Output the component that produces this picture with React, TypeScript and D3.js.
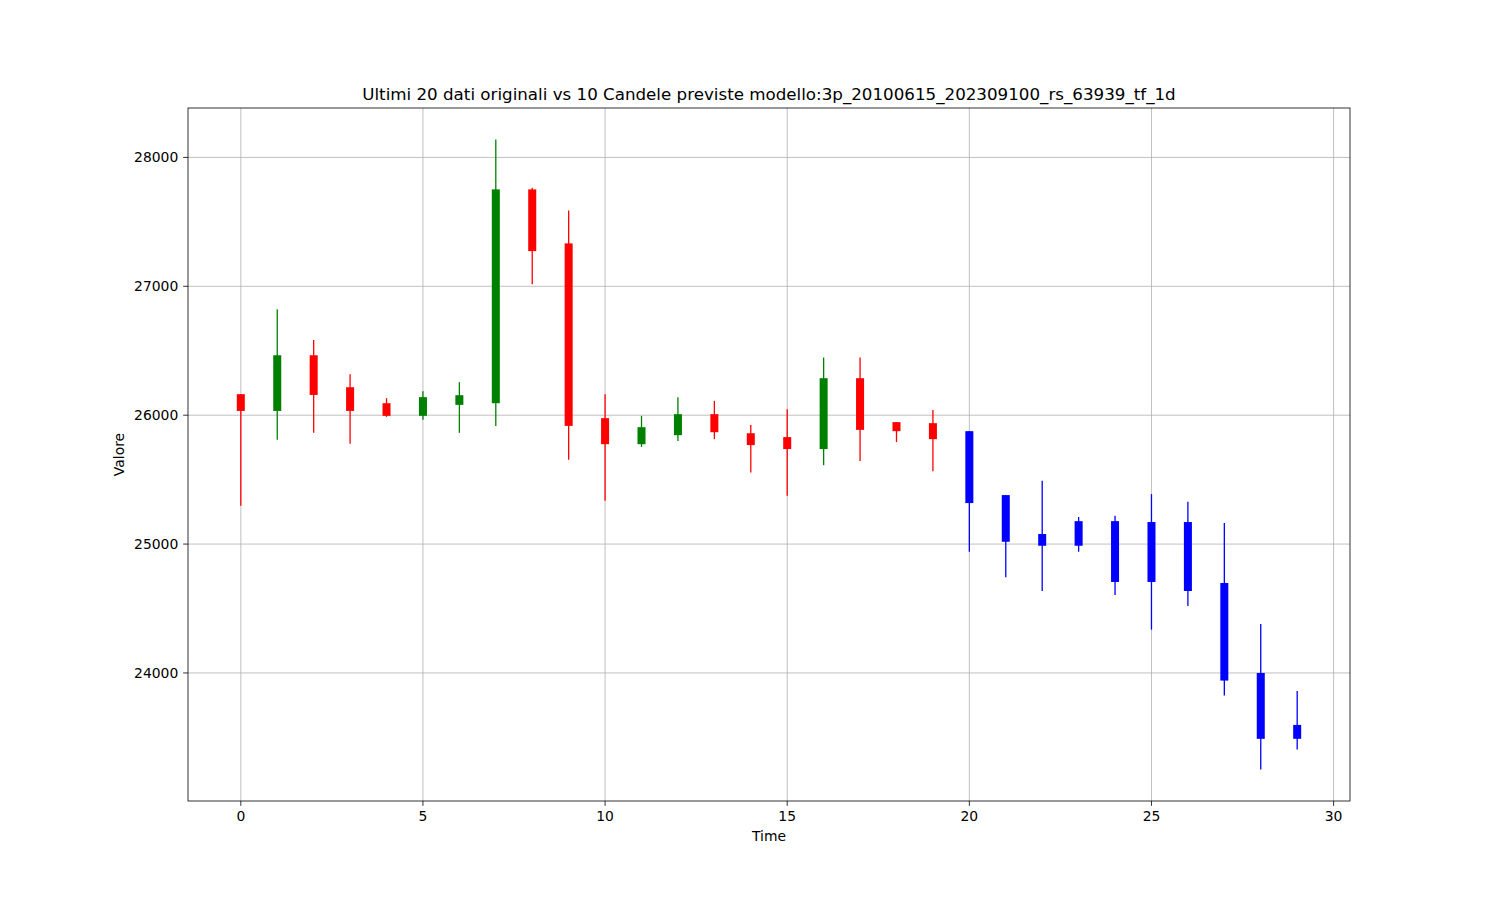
import React, { useEffect, useRef } from "react";
import * as d3 from "d3";

const TITLE = "Ultimi 20 dati originali vs 10 Candele previste modello:3p_20100615_202309100_rs_63939_tf_1d";
const X_LABEL = "Time";
const Y_LABEL = "Valore";

const times = d3.range(0, 30);
const opens = [26163, 26033, 26465, 26217, 26093, 25995, 26080, 26093, 27752, 27333,
  25977, 25775, 25845, 26008, 25860, 25830, 25737, 26287, 25946, 25938,
  25876, 25380, 25078, 25178, 25178, 25171, 25171, 24698, 24000, 23597];
const closes = [26033, 26465, 26157, 26033, 25995, 26140, 26155, 27752, 27273, 25917,
  25775, 25907, 26008, 25868, 25768, 25737, 26287, 25886, 25876, 25814,
  25318, 25018, 24987, 24987, 24706, 24706, 24636, 23941, 23489, 23489];
const highs = [26163, 26822, 26584, 26318, 26132, 26186, 26256, 28139, 27765, 27589,
  26163, 25995, 26140, 26111, 25923, 26047, 26447, 26447, 25946, 26041,
  25876, 25380, 25491, 25210, 25220, 25388, 25328, 25163, 24380, 23861];
const lows = [25297, 25809, 25863, 25778, 25987, 25964, 25863, 25917, 27015, 25654,
  25336, 25754, 25799, 25814, 25556, 25375, 25612, 25644, 25791, 25566,
  24941, 24742, 24636, 24941, 24605, 24336, 24520, 23825, 23251, 23406];
const N_ORIGINAL = 20;
const xTicks = [0, 5, 10, 15, 20, 25, 30];
const yTicks = [24000, 25000, 26000, 27000, 28000];

export default function App() {
  const ref = useRef<SVGSVGElement | null>(null);

  useEffect(() => {
    const svg = d3.select(ref.current);
    svg.selectAll("*").remove();
    const W = 1500, H = 900;
    const m = { left: 188, right: 1350, top: 108, bottom: 801 };
    const font = "DejaVu Sans, sans-serif";

    const xMin = d3.min(times)!, xMax = d3.max(times)!;
    const xPad = (xMax - xMin) * 0.05;
    const x = d3.scaleLinear().domain([xMin - xPad, xMax + xPad]).range([m.left, m.right]);
    const yMin = d3.min(lows)!, yMax = d3.max(highs)!;
    const yPad = (yMax - yMin) * 0.05;
    const y = d3.scaleLinear().domain([yMin - yPad, yMax + yPad]).range([m.bottom, m.top]);

    svg.append("rect").attr("width", W).attr("height", H).attr("fill", "white");

    const grid = svg.append("g");
    xTicks.forEach((t) => {
      grid.append("line").attr("x1", x(t)).attr("x2", x(t)).attr("y1", m.top).attr("y2", m.bottom)
        .attr("stroke", "#b0b0b0").attr("stroke-width", 0.8);
    });
    yTicks.forEach((t) => {
      grid.append("line").attr("x1", m.left).attr("x2", m.right).attr("y1", y(t)).attr("y2", y(t))
        .attr("stroke", "#b0b0b0").attr("stroke-width", 0.8);
    });

    const colorOf = (i: number) => i >= N_ORIGINAL ? "#0000ff" : (closes[i] >= opens[i] ? "#008000" : "#ff0000");
    const bodyW = x(0.22) - x(0);
    const candles = svg.append("g");
    times.forEach((t, i) => {
      const c = colorOf(i);
      candles.append("line").attr("x1", x(t)).attr("x2", x(t)).attr("y1", y(highs[i])).attr("y2", y(lows[i]))
        .attr("stroke", c).attr("stroke-width", 1.3);
      const top = y(Math.max(opens[i], closes[i]));
      const bot = y(Math.min(opens[i], closes[i]));
      candles.append("rect").attr("x", x(t) - bodyW / 2).attr("y", top)
        .attr("width", bodyW).attr("height", Math.max(bot - top, 1)).attr("fill", c);
    });

    // spines
    svg.append("rect").attr("x", m.left).attr("y", m.top).attr("width", m.right - m.left)
      .attr("height", m.bottom - m.top).attr("fill", "none").attr("stroke", "black").attr("stroke-width", 0.8);

    const tickLen = 4.86, pad = 4.86, fs = 13.9;
    xTicks.forEach((t) => {
      svg.append("line").attr("x1", x(t)).attr("x2", x(t)).attr("y1", m.bottom).attr("y2", m.bottom + tickLen)
        .attr("stroke", "black").attr("stroke-width", 0.8);
      svg.append("text").attr("x", x(t)).attr("y", m.bottom + tickLen + pad).attr("dy", "0.76em")
        .attr("text-anchor", "middle").attr("font-family", font).attr("font-size", fs).text(String(t));
    });
    yTicks.forEach((t) => {
      svg.append("line").attr("x1", m.left - tickLen).attr("x2", m.left).attr("y1", y(t)).attr("y2", y(t))
        .attr("stroke", "black").attr("stroke-width", 0.8);
      svg.append("text").attr("x", m.left - tickLen - pad).attr("y", y(t)).attr("dy", "0.36em")
        .attr("text-anchor", "end").attr("font-family", font).attr("font-size", fs).text(String(t));
    });

    svg.append("text").attr("x", (m.left + m.right) / 2).attr("y", 841).attr("text-anchor", "middle")
      .attr("font-family", font).attr("font-size", fs).text(X_LABEL);
    svg.append("text").attr("transform", `translate(124, ${(m.top + m.bottom) / 2}) rotate(-90)`)
      .attr("text-anchor", "middle").attr("font-family", font).attr("font-size", fs).text(Y_LABEL);
    svg.append("text").attr("x", (m.left + m.right) / 2).attr("y", 100).attr("text-anchor", "middle")
      .attr("font-family", font).attr("font-size", 16.7).text(TITLE);
  }, []);

  return (
    <svg ref={ref} width={1500} height={900}
      style={{ position: "absolute", left: 0, top: 0, display: "block" }} />
  );
}
